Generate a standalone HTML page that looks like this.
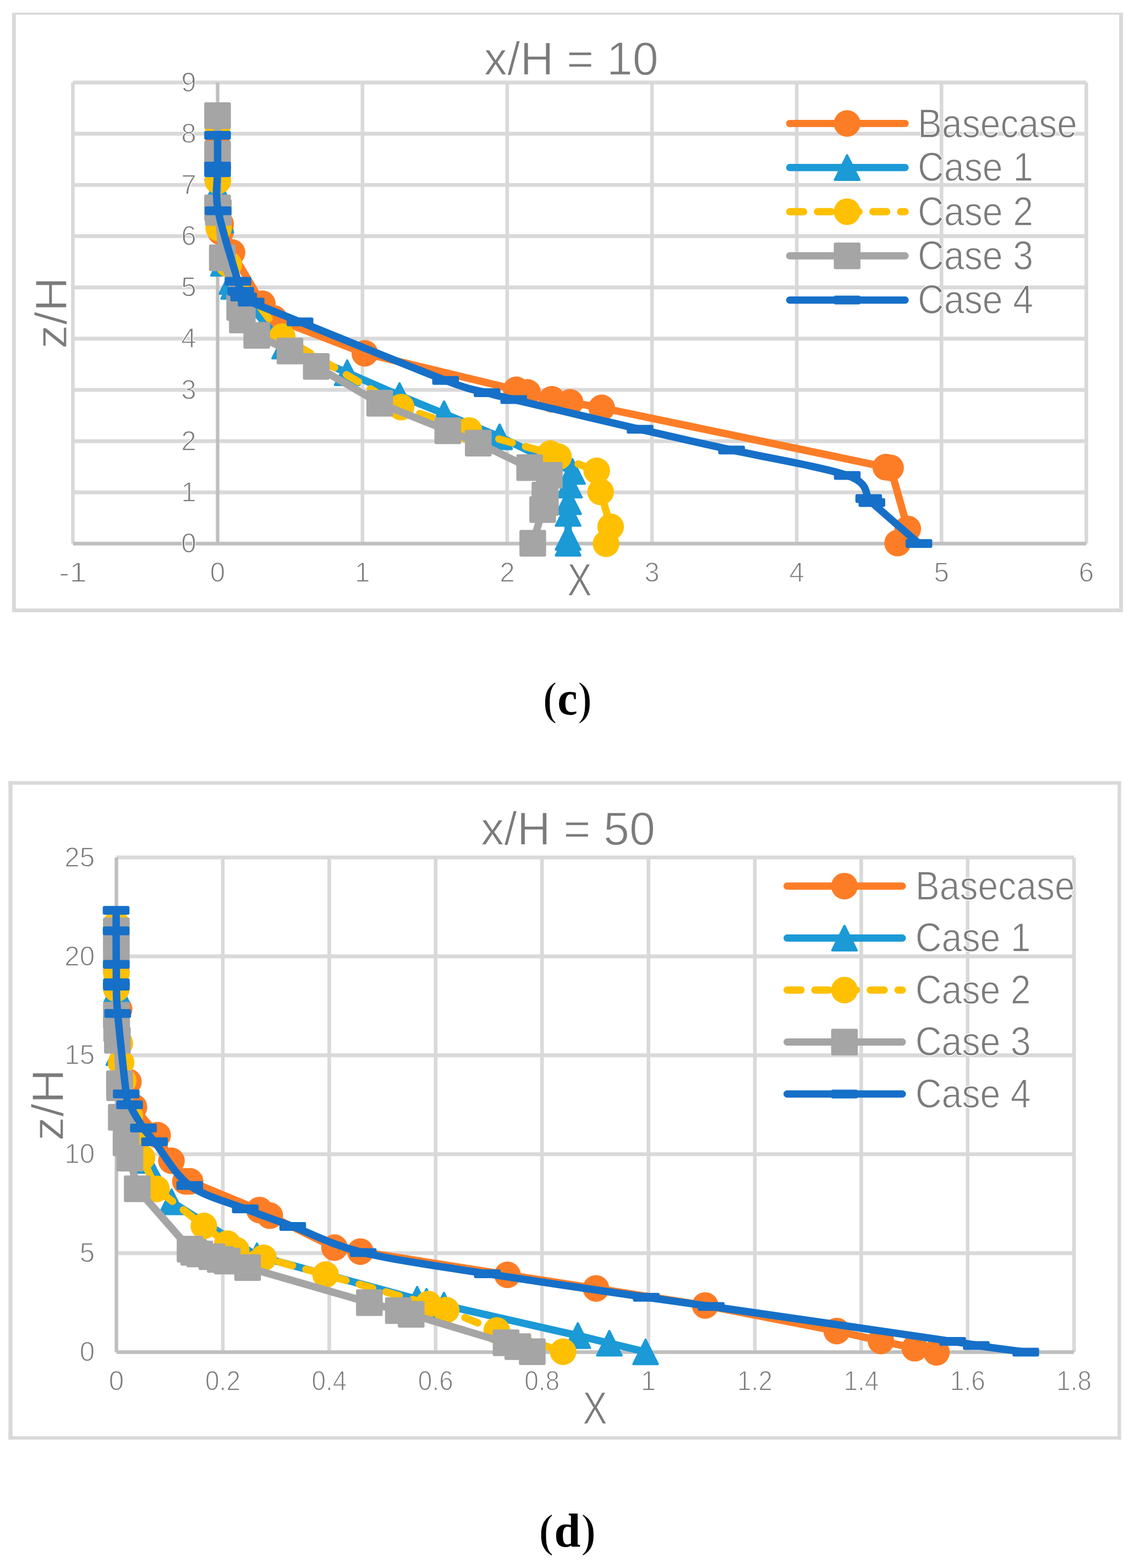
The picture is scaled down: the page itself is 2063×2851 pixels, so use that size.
<!DOCTYPE html>
<html><head><meta charset="utf-8"><title>Velocity profiles</title>
<style>html,body{margin:0;padding:0;background:#fff;}svg{display:block;}text.s{stroke:#fff;stroke-width:1.3px;}tspan.p{stroke:#fff;stroke-width:2.6px;}</style>
</head><body>
<svg width="2063" height="2851" viewBox="0 0 2063 2851">
<rect width="2063" height="2851" fill="#fff"/>
<rect x="22.0" y="23.0" width="2018.9" height="3.8" fill="#d9d9d9"/>
<rect x="22.0" y="1106.3" width="2018.9" height="6.8" fill="#d9d9d9"/>
<rect x="22.0" y="23.0" width="6.8" height="1090.1" fill="#d9d9d9"/>
<rect x="2034.2" y="23.0" width="6.7" height="1090.1" fill="#d9d9d9"/>
<rect x="15.3" y="1420.3" width="2022.4" height="6.5" fill="#d9d9d9"/>
<rect x="15.3" y="2611.4" width="2022.4" height="6.1" fill="#d9d9d9"/>
<rect x="15.3" y="1420.3" width="7.5" height="1197.2" fill="#d9d9d9"/>
<rect x="2031.3" y="1420.3" width="6.4" height="1197.2" fill="#d9d9d9"/>
<rect x="132.5" y="891.7" width="1842.0" height="7.0" fill="#d9d9d9"/>
<rect x="132.5" y="798.6" width="1842.0" height="7.0" fill="#d9d9d9"/>
<rect x="132.5" y="705.4" width="1842.0" height="7.0" fill="#d9d9d9"/>
<rect x="132.5" y="612.3" width="1842.0" height="7.0" fill="#d9d9d9"/>
<rect x="132.5" y="519.1" width="1842.0" height="7.0" fill="#d9d9d9"/>
<rect x="132.5" y="425.9" width="1842.0" height="7.0" fill="#d9d9d9"/>
<rect x="132.5" y="332.8" width="1842.0" height="7.0" fill="#d9d9d9"/>
<rect x="132.5" y="239.6" width="1842.0" height="7.0" fill="#d9d9d9"/>
<rect x="132.5" y="146.5" width="1842.0" height="7.0" fill="#d9d9d9"/>
<rect x="129.2" y="150.0" width="6.6" height="838.4" fill="#d9d9d9"/>
<rect x="655.5" y="150.0" width="6.6" height="838.4" fill="#d9d9d9"/>
<rect x="918.6" y="150.0" width="6.6" height="838.4" fill="#d9d9d9"/>
<rect x="1181.8" y="150.0" width="6.6" height="838.4" fill="#d9d9d9"/>
<rect x="1444.9" y="150.0" width="6.6" height="838.4" fill="#d9d9d9"/>
<rect x="1708.0" y="150.0" width="6.6" height="838.4" fill="#d9d9d9"/>
<rect x="1971.2" y="150.0" width="6.6" height="838.4" fill="#d9d9d9"/>
<rect x="132.5" y="985.1" width="1842.0" height="6.6" fill="#bfbfbf"/>
<rect x="392.4" y="150.0" width="6.4" height="838.4" fill="#bfbfbf"/>
<rect x="211.6" y="2275.1" width="1740.6" height="7.0" fill="#d9d9d9"/>
<rect x="211.6" y="2095.2" width="1740.6" height="7.0" fill="#d9d9d9"/>
<rect x="211.6" y="1915.3" width="1740.6" height="7.0" fill="#d9d9d9"/>
<rect x="211.6" y="1735.4" width="1740.6" height="7.0" fill="#d9d9d9"/>
<rect x="211.6" y="1555.5" width="1740.6" height="7.0" fill="#d9d9d9"/>
<rect x="401.7" y="1559.0" width="6.6" height="899.5" fill="#d9d9d9"/>
<rect x="595.1" y="1559.0" width="6.6" height="899.5" fill="#d9d9d9"/>
<rect x="788.5" y="1559.0" width="6.6" height="899.5" fill="#d9d9d9"/>
<rect x="981.9" y="1559.0" width="6.6" height="899.5" fill="#d9d9d9"/>
<rect x="1175.3" y="1559.0" width="6.6" height="899.5" fill="#d9d9d9"/>
<rect x="1368.7" y="1559.0" width="6.6" height="899.5" fill="#d9d9d9"/>
<rect x="1562.1" y="1559.0" width="6.6" height="899.5" fill="#d9d9d9"/>
<rect x="1755.5" y="1559.0" width="6.6" height="899.5" fill="#d9d9d9"/>
<rect x="1948.9" y="1559.0" width="6.6" height="899.5" fill="#d9d9d9"/>
<rect x="211.6" y="2455.2" width="1740.6" height="6.6" fill="#bfbfbf"/>
<rect x="208.4" y="1559.0" width="6.4" height="899.5" fill="#bfbfbf"/>
<text x="356.8" y="1005.0" font-size="49.5" text-anchor="end" fill="#7b7b7b" font-family="'Liberation Sans', 'DejaVu Sans', sans-serif" font-weight="normal" class="s">0</text>
<text x="356.8" y="911.8" font-size="49.5" text-anchor="end" fill="#7b7b7b" font-family="'Liberation Sans', 'DejaVu Sans', sans-serif" font-weight="normal" class="s">1</text>
<text x="356.8" y="818.7" font-size="49.5" text-anchor="end" fill="#7b7b7b" font-family="'Liberation Sans', 'DejaVu Sans', sans-serif" font-weight="normal" class="s">2</text>
<text x="356.8" y="725.5" font-size="49.5" text-anchor="end" fill="#7b7b7b" font-family="'Liberation Sans', 'DejaVu Sans', sans-serif" font-weight="normal" class="s">3</text>
<text x="356.8" y="632.4" font-size="49.5" text-anchor="end" fill="#7b7b7b" font-family="'Liberation Sans', 'DejaVu Sans', sans-serif" font-weight="normal" class="s">4</text>
<text x="356.8" y="539.2" font-size="49.5" text-anchor="end" fill="#7b7b7b" font-family="'Liberation Sans', 'DejaVu Sans', sans-serif" font-weight="normal" class="s">5</text>
<text x="356.8" y="446.0" font-size="49.5" text-anchor="end" fill="#7b7b7b" font-family="'Liberation Sans', 'DejaVu Sans', sans-serif" font-weight="normal" class="s">6</text>
<text x="356.8" y="352.9" font-size="49.5" text-anchor="end" fill="#7b7b7b" font-family="'Liberation Sans', 'DejaVu Sans', sans-serif" font-weight="normal" class="s">7</text>
<text x="356.8" y="259.7" font-size="49.5" text-anchor="end" fill="#7b7b7b" font-family="'Liberation Sans', 'DejaVu Sans', sans-serif" font-weight="normal" class="s">8</text>
<text x="356.8" y="166.6" font-size="49.5" text-anchor="end" fill="#7b7b7b" font-family="'Liberation Sans', 'DejaVu Sans', sans-serif" font-weight="normal" class="s">9</text>
<text x="132.5" y="1058.2" font-size="49.5" text-anchor="middle" fill="#7b7b7b" font-family="'Liberation Sans', 'DejaVu Sans', sans-serif" font-weight="normal" textLength="50.5" lengthAdjust="spacingAndGlyphs" class="s">-1</text>
<text x="395.6" y="1058.2" font-size="49.5" text-anchor="middle" fill="#7b7b7b" font-family="'Liberation Sans', 'DejaVu Sans', sans-serif" font-weight="normal" class="s">0</text>
<text x="658.8" y="1058.2" font-size="49.5" text-anchor="middle" fill="#7b7b7b" font-family="'Liberation Sans', 'DejaVu Sans', sans-serif" font-weight="normal" class="s">1</text>
<text x="921.9" y="1058.2" font-size="49.5" text-anchor="middle" fill="#7b7b7b" font-family="'Liberation Sans', 'DejaVu Sans', sans-serif" font-weight="normal" class="s">2</text>
<text x="1185.0" y="1058.2" font-size="49.5" text-anchor="middle" fill="#7b7b7b" font-family="'Liberation Sans', 'DejaVu Sans', sans-serif" font-weight="normal" class="s">3</text>
<text x="1448.2" y="1058.2" font-size="49.5" text-anchor="middle" fill="#7b7b7b" font-family="'Liberation Sans', 'DejaVu Sans', sans-serif" font-weight="normal" class="s">4</text>
<text x="1711.3" y="1058.2" font-size="49.5" text-anchor="middle" fill="#7b7b7b" font-family="'Liberation Sans', 'DejaVu Sans', sans-serif" font-weight="normal" class="s">5</text>
<text x="1974.5" y="1058.2" font-size="49.5" text-anchor="middle" fill="#7b7b7b" font-family="'Liberation Sans', 'DejaVu Sans', sans-serif" font-weight="normal" class="s">6</text>
<text x="172.2" y="2475.1" font-size="49.5" text-anchor="end" fill="#7b7b7b" font-family="'Liberation Sans', 'DejaVu Sans', sans-serif" font-weight="normal" class="s">0</text>
<text x="172.2" y="2295.2" font-size="49.5" text-anchor="end" fill="#7b7b7b" font-family="'Liberation Sans', 'DejaVu Sans', sans-serif" font-weight="normal" class="s">5</text>
<text x="172.2" y="2115.3" font-size="49.5" text-anchor="end" fill="#7b7b7b" font-family="'Liberation Sans', 'DejaVu Sans', sans-serif" font-weight="normal" class="s">10</text>
<text x="172.2" y="1935.4" font-size="49.5" text-anchor="end" fill="#7b7b7b" font-family="'Liberation Sans', 'DejaVu Sans', sans-serif" font-weight="normal" class="s">15</text>
<text x="172.2" y="1755.5" font-size="49.5" text-anchor="end" fill="#7b7b7b" font-family="'Liberation Sans', 'DejaVu Sans', sans-serif" font-weight="normal" class="s">20</text>
<text x="172.2" y="1575.6" font-size="49.5" text-anchor="end" fill="#7b7b7b" font-family="'Liberation Sans', 'DejaVu Sans', sans-serif" font-weight="normal" class="s">25</text>
<text x="211.6" y="2528.2" font-size="49.5" text-anchor="middle" fill="#7b7b7b" font-family="'Liberation Sans', 'DejaVu Sans', sans-serif" font-weight="normal" class="s">0</text>
<text x="405.0" y="2528.2" font-size="49.5" text-anchor="middle" fill="#7b7b7b" font-family="'Liberation Sans', 'DejaVu Sans', sans-serif" font-weight="normal" textLength="64.0" lengthAdjust="spacingAndGlyphs" class="s">0.2</text>
<text x="598.4" y="2528.2" font-size="49.5" text-anchor="middle" fill="#7b7b7b" font-family="'Liberation Sans', 'DejaVu Sans', sans-serif" font-weight="normal" textLength="64.0" lengthAdjust="spacingAndGlyphs" class="s">0.4</text>
<text x="791.8" y="2528.2" font-size="49.5" text-anchor="middle" fill="#7b7b7b" font-family="'Liberation Sans', 'DejaVu Sans', sans-serif" font-weight="normal" textLength="64.0" lengthAdjust="spacingAndGlyphs" class="s">0.6</text>
<text x="985.2" y="2528.2" font-size="49.5" text-anchor="middle" fill="#7b7b7b" font-family="'Liberation Sans', 'DejaVu Sans', sans-serif" font-weight="normal" textLength="64.0" lengthAdjust="spacingAndGlyphs" class="s">0.8</text>
<text x="1178.6" y="2528.2" font-size="49.5" text-anchor="middle" fill="#7b7b7b" font-family="'Liberation Sans', 'DejaVu Sans', sans-serif" font-weight="normal" class="s">1</text>
<text x="1372.0" y="2528.2" font-size="49.5" text-anchor="middle" fill="#7b7b7b" font-family="'Liberation Sans', 'DejaVu Sans', sans-serif" font-weight="normal" textLength="64.0" lengthAdjust="spacingAndGlyphs" class="s">1.2</text>
<text x="1565.4" y="2528.2" font-size="49.5" text-anchor="middle" fill="#7b7b7b" font-family="'Liberation Sans', 'DejaVu Sans', sans-serif" font-weight="normal" textLength="64.0" lengthAdjust="spacingAndGlyphs" class="s">1.4</text>
<text x="1758.8" y="2528.2" font-size="49.5" text-anchor="middle" fill="#7b7b7b" font-family="'Liberation Sans', 'DejaVu Sans', sans-serif" font-weight="normal" textLength="64.0" lengthAdjust="spacingAndGlyphs" class="s">1.6</text>
<text x="1952.2" y="2528.2" font-size="49.5" text-anchor="middle" fill="#7b7b7b" font-family="'Liberation Sans', 'DejaVu Sans', sans-serif" font-weight="normal" textLength="64.0" lengthAdjust="spacingAndGlyphs" class="s">1.8</text>
<text x="1038.3" y="136.2" font-size="85.8" text-anchor="middle" fill="#7b7b7b" font-family="'Liberation Sans', 'DejaVu Sans', sans-serif" font-weight="normal" textLength="317.0" lengthAdjust="spacingAndGlyphs" class="s">x/H = 10</text>
<text x="1032.5" y="1536.0" font-size="85.8" text-anchor="middle" fill="#7b7b7b" font-family="'Liberation Sans', 'DejaVu Sans', sans-serif" font-weight="normal" textLength="317.0" lengthAdjust="spacingAndGlyphs" class="s">x/H = 50</text>
<text x="1053.5" y="1083.1" font-size="84" text-anchor="middle" fill="#7b7b7b" font-family="'Liberation Sans', 'DejaVu Sans', sans-serif" font-weight="normal" textLength="45.0" lengthAdjust="spacingAndGlyphs" class="s">X</text>
<text x="1081.4" y="2588.7" font-size="84" text-anchor="middle" fill="#7b7b7b" font-family="'Liberation Sans', 'DejaVu Sans', sans-serif" font-weight="normal" textLength="45.0" lengthAdjust="spacingAndGlyphs" class="s">X</text>
<text class="s" transform="translate(121,569) rotate(-90)" x="0" y="0" textLength="130.5" lengthAdjust="spacingAndGlyphs" font-size="82" text-anchor="middle" fill="#7b7b7b" font-family="'Liberation Sans', 'DejaVu Sans', sans-serif">z/H</text>
<text class="s" transform="translate(115.1,2009) rotate(-90)" x="0" y="0" textLength="130.5" lengthAdjust="spacingAndGlyphs" font-size="82" text-anchor="middle" fill="#7b7b7b" font-family="'Liberation Sans', 'DejaVu Sans', sans-serif">z/H</text>
<text x="1031.4" y="1298.6" font-size="86" text-anchor="middle" fill="#000" font-family="'Liberation Serif', serif" font-weight="bold" textLength="90.8" lengthAdjust="spacingAndGlyphs"><tspan class="p">(</tspan>c<tspan class="p">)</tspan></text>
<text x="1031.3" y="2811.8" font-size="86.3" text-anchor="middle" fill="#000" font-family="'Liberation Serif', serif" font-weight="bold"><tspan class="p">(</tspan>d<tspan class="p">)</tspan></text>
<line x1="1435.4" y1="224.5" x2="1645.1" y2="224.5" stroke="#fd7d27" stroke-width="13.2" stroke-linecap="round"/>
<circle cx="1539.7" cy="224.5" r="24.2" fill="#fd7d27"/>
<text x="1668.0" y="249.6" font-size="74.7" text-anchor="start" fill="#7b7b7b" font-family="'Liberation Sans', 'DejaVu Sans', sans-serif" font-weight="normal" textLength="290.0" lengthAdjust="spacingAndGlyphs" class="s">Basecase</text>
<line x1="1435.4" y1="304.7" x2="1645.1" y2="304.7" stroke="#1b9ad6" stroke-width="13.2" stroke-linecap="round"/>
<path d="M1539.7,282.4 L1562.0,326.9 L1517.5,326.9Z" fill="#1b9ad6" stroke="#1b9ad6" stroke-width="4" stroke-linejoin="round"/>
<text x="1668.0" y="329.4" font-size="74.7" text-anchor="start" fill="#7b7b7b" font-family="'Liberation Sans', 'DejaVu Sans', sans-serif" font-weight="normal" textLength="210.0" lengthAdjust="spacingAndGlyphs" class="s">Case 1</text>
<line x1="1435.4" y1="384.9" x2="1645.1" y2="384.9" stroke="#fec000" stroke-width="13.2" stroke-linecap="round" stroke-dasharray="25.2 25.2"/>
<circle cx="1539.7" cy="384.9" r="24.2" fill="#fec000"/>
<text x="1668.0" y="409.6" font-size="74.7" text-anchor="start" fill="#7b7b7b" font-family="'Liberation Sans', 'DejaVu Sans', sans-serif" font-weight="normal" textLength="210.0" lengthAdjust="spacingAndGlyphs" class="s">Case 2</text>
<line x1="1435.4" y1="465.1" x2="1645.1" y2="465.1" stroke="#a5a5a5" stroke-width="13.2" stroke-linecap="round"/>
<rect x="1515.5" y="440.9" width="48.5" height="48.5" rx="3" fill="#a5a5a5"/>
<text x="1668.0" y="489.8" font-size="74.7" text-anchor="start" fill="#7b7b7b" font-family="'Liberation Sans', 'DejaVu Sans', sans-serif" font-weight="normal" textLength="210.0" lengthAdjust="spacingAndGlyphs" class="s">Case 3</text>
<line x1="1435.4" y1="545.6" x2="1645.1" y2="545.6" stroke="#1670c8" stroke-width="13.2" stroke-linecap="round"/>
<rect x="1515.5" y="537.6" width="48.5" height="16" rx="3" fill="#1670c8"/>
<text x="1668.0" y="570.0" font-size="74.7" text-anchor="start" fill="#7b7b7b" font-family="'Liberation Sans', 'DejaVu Sans', sans-serif" font-weight="normal" textLength="210.0" lengthAdjust="spacingAndGlyphs" class="s">Case 4</text>
<line x1="1430.7" y1="1611.2" x2="1640.0" y2="1611.2" stroke="#fd7d27" stroke-width="13.2" stroke-linecap="round"/>
<circle cx="1534.9" cy="1611.2" r="24.2" fill="#fd7d27"/>
<text x="1663.7" y="1635.5" font-size="74.7" text-anchor="start" fill="#7b7b7b" font-family="'Liberation Sans', 'DejaVu Sans', sans-serif" font-weight="normal" textLength="290.0" lengthAdjust="spacingAndGlyphs" class="s">Basecase</text>
<line x1="1430.7" y1="1705.7" x2="1640.0" y2="1705.7" stroke="#1b9ad6" stroke-width="13.2" stroke-linecap="round"/>
<path d="M1534.9,1683.5 L1557.2,1728.0 L1512.7,1728.0Z" fill="#1b9ad6" stroke="#1b9ad6" stroke-width="4" stroke-linejoin="round"/>
<text x="1663.7" y="1730.0" font-size="74.7" text-anchor="start" fill="#7b7b7b" font-family="'Liberation Sans', 'DejaVu Sans', sans-serif" font-weight="normal" textLength="210.0" lengthAdjust="spacingAndGlyphs" class="s">Case 1</text>
<line x1="1430.7" y1="1800.2" x2="1640.0" y2="1800.2" stroke="#fec000" stroke-width="13.2" stroke-linecap="round" stroke-dasharray="25.2 25.2"/>
<circle cx="1534.9" cy="1800.2" r="24.2" fill="#fec000"/>
<text x="1663.7" y="1824.5" font-size="74.7" text-anchor="start" fill="#7b7b7b" font-family="'Liberation Sans', 'DejaVu Sans', sans-serif" font-weight="normal" textLength="210.0" lengthAdjust="spacingAndGlyphs" class="s">Case 2</text>
<line x1="1430.7" y1="1894.7" x2="1640.0" y2="1894.7" stroke="#a5a5a5" stroke-width="13.2" stroke-linecap="round"/>
<rect x="1510.7" y="1870.5" width="48.5" height="48.5" rx="3" fill="#a5a5a5"/>
<text x="1663.7" y="1919.0" font-size="74.7" text-anchor="start" fill="#7b7b7b" font-family="'Liberation Sans', 'DejaVu Sans', sans-serif" font-weight="normal" textLength="210.0" lengthAdjust="spacingAndGlyphs" class="s">Case 3</text>
<line x1="1430.7" y1="1989.2" x2="1640.0" y2="1989.2" stroke="#1670c8" stroke-width="13.2" stroke-linecap="round"/>
<rect x="1510.7" y="1981.2" width="48.5" height="16" rx="3" fill="#1670c8"/>
<text x="1663.7" y="2013.5" font-size="74.7" text-anchor="start" fill="#7b7b7b" font-family="'Liberation Sans', 'DejaVu Sans', sans-serif" font-weight="normal" textLength="210.0" lengthAdjust="spacingAndGlyphs" class="s">Case 4</text>
<defs><clipPath id="cp1"><rect x="0" y="0" width="2063" height="1100"/></clipPath><clipPath id="cp2"><rect x="0" y="1430" width="2063" height="1180"/></clipPath></defs>
<g clip-path="url(#cp1)">
<path d="M395.5,265.0 L396.0,305.0 L401.0,407.0 L401.0,421.6 L421.7,459.0 L476.8,552.2 L498.1,579.0 L663.1,642.4 L938.3,708.8 L959.0,713.5 L1003.0,726.0 L1036.3,731.5 L1093.6,741.5 L1610.0,849.3 L1618.7,850.6 L1650.0,961.6 L1631.5,987.4" fill="none" stroke="#fd7d27" stroke-width="13.5" stroke-linejoin="round" stroke-linecap="round"/>
<circle cx="395.5" cy="265.0" r="24.2" fill="#fd7d27"/>
<circle cx="396.0" cy="305.0" r="24.2" fill="#fd7d27"/>
<circle cx="401.0" cy="407.0" r="24.2" fill="#fd7d27"/>
<circle cx="401.0" cy="421.6" r="24.2" fill="#fd7d27"/>
<circle cx="421.7" cy="459.0" r="24.2" fill="#fd7d27"/>
<circle cx="476.8" cy="552.2" r="24.2" fill="#fd7d27"/>
<circle cx="498.1" cy="579.0" r="24.2" fill="#fd7d27"/>
<circle cx="663.1" cy="642.4" r="24.2" fill="#fd7d27"/>
<circle cx="938.3" cy="708.8" r="24.2" fill="#fd7d27"/>
<circle cx="959.0" cy="713.5" r="24.2" fill="#fd7d27"/>
<circle cx="1003.0" cy="726.0" r="24.2" fill="#fd7d27"/>
<circle cx="1036.3" cy="731.5" r="24.2" fill="#fd7d27"/>
<circle cx="1093.6" cy="741.5" r="24.2" fill="#fd7d27"/>
<circle cx="1610.0" cy="849.3" r="24.2" fill="#fd7d27"/>
<circle cx="1618.7" cy="850.6" r="24.2" fill="#fd7d27"/>
<circle cx="1650.0" cy="961.6" r="24.2" fill="#fd7d27"/>
<circle cx="1631.5" cy="987.4" r="24.2" fill="#fd7d27"/>
<path d="M395.5,305.0 L395.5,345.0 L401.6,400.4 L406.2,478.7 L421.4,511.9 L424.6,520.6 L517.4,629.4 L631.1,677.6 L726.2,719.2 L807.2,752.2 L908.1,794.2 L1040.5,857.4 L1035.0,882.0 L1033.4,912.1 L1032.6,933.5 L1032.6,977.3 L1032.6,987.8" fill="none" stroke="#1b9ad6" stroke-width="13.5" stroke-linejoin="round" stroke-linecap="round"/>
<path d="M395.5,282.8 L417.8,327.2 L373.2,327.2Z" fill="#1b9ad6" stroke="#1b9ad6" stroke-width="4" stroke-linejoin="round"/>
<path d="M395.5,322.8 L417.8,367.2 L373.2,367.2Z" fill="#1b9ad6" stroke="#1b9ad6" stroke-width="4" stroke-linejoin="round"/>
<path d="M401.6,378.1 L423.9,422.6 L379.4,422.6Z" fill="#1b9ad6" stroke="#1b9ad6" stroke-width="4" stroke-linejoin="round"/>
<path d="M406.2,456.4 L428.4,500.9 L383.9,500.9Z" fill="#1b9ad6" stroke="#1b9ad6" stroke-width="4" stroke-linejoin="round"/>
<path d="M421.4,489.6 L443.6,534.1 L399.1,534.1Z" fill="#1b9ad6" stroke="#1b9ad6" stroke-width="4" stroke-linejoin="round"/>
<path d="M424.6,498.4 L446.9,542.9 L402.4,542.9Z" fill="#1b9ad6" stroke="#1b9ad6" stroke-width="4" stroke-linejoin="round"/>
<path d="M517.4,607.1 L539.6,651.6 L495.1,651.6Z" fill="#1b9ad6" stroke="#1b9ad6" stroke-width="4" stroke-linejoin="round"/>
<path d="M631.1,655.4 L653.4,699.9 L608.9,699.9Z" fill="#1b9ad6" stroke="#1b9ad6" stroke-width="4" stroke-linejoin="round"/>
<path d="M726.2,697.0 L748.5,741.5 L704.0,741.5Z" fill="#1b9ad6" stroke="#1b9ad6" stroke-width="4" stroke-linejoin="round"/>
<path d="M807.2,730.0 L829.5,774.5 L785.0,774.5Z" fill="#1b9ad6" stroke="#1b9ad6" stroke-width="4" stroke-linejoin="round"/>
<path d="M908.1,772.0 L930.4,816.5 L885.9,816.5Z" fill="#1b9ad6" stroke="#1b9ad6" stroke-width="4" stroke-linejoin="round"/>
<path d="M1040.5,835.1 L1062.8,879.6 L1018.2,879.6Z" fill="#1b9ad6" stroke="#1b9ad6" stroke-width="4" stroke-linejoin="round"/>
<path d="M1035.0,859.8 L1057.2,904.2 L1012.8,904.2Z" fill="#1b9ad6" stroke="#1b9ad6" stroke-width="4" stroke-linejoin="round"/>
<path d="M1033.4,889.9 L1055.7,934.4 L1011.2,934.4Z" fill="#1b9ad6" stroke="#1b9ad6" stroke-width="4" stroke-linejoin="round"/>
<path d="M1032.6,911.2 L1054.8,955.8 L1010.3,955.8Z" fill="#1b9ad6" stroke="#1b9ad6" stroke-width="4" stroke-linejoin="round"/>
<path d="M1032.6,955.0 L1054.8,999.5 L1010.3,999.5Z" fill="#1b9ad6" stroke="#1b9ad6" stroke-width="4" stroke-linejoin="round"/>
<path d="M1032.6,965.5 L1054.8,1010.0 L1010.3,1010.0Z" fill="#1b9ad6" stroke="#1b9ad6" stroke-width="4" stroke-linejoin="round"/>
<path d="M395.5,228.0 L396.0,329.0 L397.4,414.3 L415.8,481.0 L513.0,612.0 L729.1,740.1 L852.5,782.7 L1000.3,824.8 L1015.2,830.5 L1084.6,856.0 L1091.7,894.4 L1109.9,957.8 L1101.5,988.7" fill="none" stroke="#fec000" stroke-width="13.5" stroke-linejoin="round" stroke-linecap="round" stroke-dasharray="25.2 25.2"/>
<circle cx="395.5" cy="228.0" r="24.2" fill="#fec000"/>
<circle cx="396.0" cy="329.0" r="24.2" fill="#fec000"/>
<circle cx="397.4" cy="414.3" r="24.2" fill="#fec000"/>
<circle cx="415.8" cy="481.0" r="24.2" fill="#fec000"/>
<circle cx="513.0" cy="612.0" r="24.2" fill="#fec000"/>
<circle cx="729.1" cy="740.1" r="24.2" fill="#fec000"/>
<circle cx="852.5" cy="782.7" r="24.2" fill="#fec000"/>
<circle cx="1000.3" cy="824.8" r="24.2" fill="#fec000"/>
<circle cx="1015.2" cy="830.5" r="24.2" fill="#fec000"/>
<circle cx="1084.6" cy="856.0" r="24.2" fill="#fec000"/>
<circle cx="1091.7" cy="894.4" r="24.2" fill="#fec000"/>
<circle cx="1109.9" cy="957.8" r="24.2" fill="#fec000"/>
<circle cx="1101.5" cy="988.7" r="24.2" fill="#fec000"/>
<path d="M395.5,210.3 L395.5,280.0 L395.5,378.0 L396.9,386.4 L404.0,468.8 L435.6,559.0 L440.5,581.6 L466.7,609.6 L527.0,638.3 L574.9,666.4 L690.3,733.4 L813.9,783.1 L869.3,805.6 L962.6,850.3 L998.5,864.4 L990.5,900.4 L991.4,913.8 L986.4,926.5 L968.4,987.9" fill="none" stroke="#a5a5a5" stroke-width="13.5" stroke-linejoin="round" stroke-linecap="round"/>
<rect x="371.2" y="186.1" width="48.5" height="48.5" rx="3" fill="#a5a5a5"/>
<rect x="371.2" y="255.8" width="48.5" height="48.5" rx="3" fill="#a5a5a5"/>
<rect x="371.2" y="353.8" width="48.5" height="48.5" rx="3" fill="#a5a5a5"/>
<rect x="372.6" y="362.1" width="48.5" height="48.5" rx="3" fill="#a5a5a5"/>
<rect x="379.8" y="444.6" width="48.5" height="48.5" rx="3" fill="#a5a5a5"/>
<rect x="411.4" y="534.8" width="48.5" height="48.5" rx="3" fill="#a5a5a5"/>
<rect x="416.2" y="557.4" width="48.5" height="48.5" rx="3" fill="#a5a5a5"/>
<rect x="442.4" y="585.4" width="48.5" height="48.5" rx="3" fill="#a5a5a5"/>
<rect x="502.8" y="614.0" width="48.5" height="48.5" rx="3" fill="#a5a5a5"/>
<rect x="550.6" y="642.1" width="48.5" height="48.5" rx="3" fill="#a5a5a5"/>
<rect x="666.0" y="709.1" width="48.5" height="48.5" rx="3" fill="#a5a5a5"/>
<rect x="789.6" y="758.9" width="48.5" height="48.5" rx="3" fill="#a5a5a5"/>
<rect x="845.0" y="781.4" width="48.5" height="48.5" rx="3" fill="#a5a5a5"/>
<rect x="938.4" y="826.0" width="48.5" height="48.5" rx="3" fill="#a5a5a5"/>
<rect x="974.2" y="840.1" width="48.5" height="48.5" rx="3" fill="#a5a5a5"/>
<rect x="966.2" y="876.1" width="48.5" height="48.5" rx="3" fill="#a5a5a5"/>
<rect x="967.1" y="889.5" width="48.5" height="48.5" rx="3" fill="#a5a5a5"/>
<rect x="962.1" y="902.2" width="48.5" height="48.5" rx="3" fill="#a5a5a5"/>
<rect x="944.1" y="963.6" width="48.5" height="48.5" rx="3" fill="#a5a5a5"/>
<path d="M395.5,245.9 C395.5,255.2 395.5,290.6 395.5,302.0 C395.5,313.4 395.3,300.5 395.5,314.0 C395.7,327.5 390.3,350.3 396.5,383.2 C402.7,416.1 425.6,487.1 432.5,511.5 C439.4,535.9 435.9,525.0 437.6,529.8 C439.3,534.5 439.7,536.8 442.8,540.0 C445.9,543.2 439.4,541.8 456.5,549.3 C473.6,556.8 486.5,561.5 545.4,585.2 C604.3,608.9 753.3,670.2 809.9,691.7 C866.5,713.2 864.6,708.3 885.2,714.1 C905.8,719.9 887.3,715.3 933.7,726.4 C980.1,737.5 1097.4,765.3 1163.4,780.6 C1229.4,795.9 1267.0,804.2 1329.7,818.2 C1392.5,832.2 1498.4,849.7 1539.9,864.4 C1581.5,879.1 1571.5,898.2 1579.0,906.4 C1586.5,914.6 1569.6,900.1 1584.8,913.7 C1600.0,927.4 1656.0,975.9 1670.3,988.3" fill="none" stroke="#1670c8" stroke-width="13.5" stroke-linejoin="round" stroke-linecap="round"/>
<rect x="371.2" y="237.9" width="48.5" height="16" rx="3" fill="#1670c8"/>
<rect x="371.2" y="294.0" width="48.5" height="16" rx="3" fill="#1670c8"/>
<rect x="371.2" y="306.0" width="48.5" height="16" rx="3" fill="#1670c8"/>
<rect x="372.2" y="375.2" width="48.5" height="16" rx="3" fill="#1670c8"/>
<rect x="408.2" y="503.5" width="48.5" height="16" rx="3" fill="#1670c8"/>
<rect x="413.4" y="521.8" width="48.5" height="16" rx="3" fill="#1670c8"/>
<rect x="418.6" y="532.0" width="48.5" height="16" rx="3" fill="#1670c8"/>
<rect x="432.2" y="541.3" width="48.5" height="16" rx="3" fill="#1670c8"/>
<rect x="521.1" y="577.2" width="48.5" height="16" rx="3" fill="#1670c8"/>
<rect x="785.6" y="683.7" width="48.5" height="16" rx="3" fill="#1670c8"/>
<rect x="861.0" y="706.1" width="48.5" height="16" rx="3" fill="#1670c8"/>
<rect x="909.5" y="718.4" width="48.5" height="16" rx="3" fill="#1670c8"/>
<rect x="1139.2" y="772.6" width="48.5" height="16" rx="3" fill="#1670c8"/>
<rect x="1305.5" y="810.2" width="48.5" height="16" rx="3" fill="#1670c8"/>
<rect x="1515.7" y="856.4" width="48.5" height="16" rx="3" fill="#1670c8"/>
<rect x="1554.8" y="898.4" width="48.5" height="16" rx="3" fill="#1670c8"/>
<rect x="1560.5" y="905.7" width="48.5" height="16" rx="3" fill="#1670c8"/>
<rect x="1646.0" y="980.3" width="48.5" height="16" rx="3" fill="#1670c8"/>
</g>
<g clip-path="url(#cp2)">
<path d="M211.5,1700.0 L211.5,1765.0 L216.5,1835.0 L233.4,1967.0 L243.5,2013.0 L286.5,2064.0 L311.6,2110.5 L337.0,2148.0 L345.5,2148.0 L471.6,2200.2 L490.4,2210.3 L608.0,2268.5 L655.0,2275.7 L922.4,2318.0 L1083.3,2342.7 L1281.8,2373.7 L1520.9,2420.2 L1601.2,2438.2 L1662.7,2451.4 L1702.2,2458.8" fill="none" stroke="#fd7d27" stroke-width="13.5" stroke-linejoin="round" stroke-linecap="round"/>
<circle cx="211.5" cy="1700.0" r="24.2" fill="#fd7d27"/>
<circle cx="211.5" cy="1765.0" r="24.2" fill="#fd7d27"/>
<circle cx="216.5" cy="1835.0" r="24.2" fill="#fd7d27"/>
<circle cx="233.4" cy="1967.0" r="24.2" fill="#fd7d27"/>
<circle cx="243.5" cy="2013.0" r="24.2" fill="#fd7d27"/>
<circle cx="286.5" cy="2064.0" r="24.2" fill="#fd7d27"/>
<circle cx="311.6" cy="2110.5" r="24.2" fill="#fd7d27"/>
<circle cx="337.0" cy="2148.0" r="24.2" fill="#fd7d27"/>
<circle cx="345.5" cy="2148.0" r="24.2" fill="#fd7d27"/>
<circle cx="471.6" cy="2200.2" r="24.2" fill="#fd7d27"/>
<circle cx="490.4" cy="2210.3" r="24.2" fill="#fd7d27"/>
<circle cx="608.0" cy="2268.5" r="24.2" fill="#fd7d27"/>
<circle cx="655.0" cy="2275.7" r="24.2" fill="#fd7d27"/>
<circle cx="922.4" cy="2318.0" r="24.2" fill="#fd7d27"/>
<circle cx="1083.3" cy="2342.7" r="24.2" fill="#fd7d27"/>
<circle cx="1281.8" cy="2373.7" r="24.2" fill="#fd7d27"/>
<circle cx="1520.9" cy="2420.2" r="24.2" fill="#fd7d27"/>
<circle cx="1601.2" cy="2438.2" r="24.2" fill="#fd7d27"/>
<circle cx="1662.7" cy="2451.4" r="24.2" fill="#fd7d27"/>
<circle cx="1702.2" cy="2458.8" r="24.2" fill="#fd7d27"/>
<path d="M211.5,1705.0 L212.0,1800.0 L216.0,1914.0 L222.0,1965.0 L240.0,2040.0 L265.0,2110.0 L287.5,2154.4 L311.9,2185.2 L467.1,2283.4 L758.2,2362.3 L775.3,2366.2 L806.9,2373.0 L1050.3,2428.4 L1107.6,2442.3 L1173.4,2458.0" fill="none" stroke="#1b9ad6" stroke-width="13.5" stroke-linejoin="round" stroke-linecap="round"/>
<path d="M211.5,1682.8 L233.8,1727.2 L189.2,1727.2Z" fill="#1b9ad6" stroke="#1b9ad6" stroke-width="4" stroke-linejoin="round"/>
<path d="M212.0,1777.8 L234.2,1822.2 L189.8,1822.2Z" fill="#1b9ad6" stroke="#1b9ad6" stroke-width="4" stroke-linejoin="round"/>
<path d="M216.0,1891.8 L238.2,1936.2 L193.8,1936.2Z" fill="#1b9ad6" stroke="#1b9ad6" stroke-width="4" stroke-linejoin="round"/>
<path d="M222.0,1942.8 L244.2,1987.2 L199.8,1987.2Z" fill="#1b9ad6" stroke="#1b9ad6" stroke-width="4" stroke-linejoin="round"/>
<path d="M240.0,2017.8 L262.2,2062.2 L217.8,2062.2Z" fill="#1b9ad6" stroke="#1b9ad6" stroke-width="4" stroke-linejoin="round"/>
<path d="M265.0,2087.8 L287.2,2132.2 L242.8,2132.2Z" fill="#1b9ad6" stroke="#1b9ad6" stroke-width="4" stroke-linejoin="round"/>
<path d="M287.5,2132.2 L309.8,2176.7 L265.2,2176.7Z" fill="#1b9ad6" stroke="#1b9ad6" stroke-width="4" stroke-linejoin="round"/>
<path d="M311.9,2162.9 L334.1,2207.4 L289.6,2207.4Z" fill="#1b9ad6" stroke="#1b9ad6" stroke-width="4" stroke-linejoin="round"/>
<path d="M467.1,2261.2 L489.4,2305.7 L444.9,2305.7Z" fill="#1b9ad6" stroke="#1b9ad6" stroke-width="4" stroke-linejoin="round"/>
<path d="M758.2,2340.1 L780.5,2384.6 L736.0,2384.6Z" fill="#1b9ad6" stroke="#1b9ad6" stroke-width="4" stroke-linejoin="round"/>
<path d="M775.3,2343.9 L797.5,2388.4 L753.0,2388.4Z" fill="#1b9ad6" stroke="#1b9ad6" stroke-width="4" stroke-linejoin="round"/>
<path d="M806.9,2350.8 L829.1,2395.2 L784.6,2395.2Z" fill="#1b9ad6" stroke="#1b9ad6" stroke-width="4" stroke-linejoin="round"/>
<path d="M1050.3,2406.2 L1072.5,2450.7 L1028.0,2450.7Z" fill="#1b9ad6" stroke="#1b9ad6" stroke-width="4" stroke-linejoin="round"/>
<path d="M1107.6,2420.1 L1129.8,2464.6 L1085.3,2464.6Z" fill="#1b9ad6" stroke="#1b9ad6" stroke-width="4" stroke-linejoin="round"/>
<path d="M1173.4,2435.8 L1195.7,2480.2 L1151.2,2480.2Z" fill="#1b9ad6" stroke="#1b9ad6" stroke-width="4" stroke-linejoin="round"/>
<path d="M211.5,1680.0 L211.5,1770.0 L211.5,1798.0 L217.7,1897.0 L220.0,1932.0 L224.0,1965.0 L236.0,2030.0 L248.0,2066.0 L258.1,2105.0 L284.4,2161.7 L370.5,2229.0 L413.3,2261.2 L429.4,2273.0 L479.0,2286.9 L591.8,2317.5 L778.6,2371.1 L811.0,2382.0 L902.9,2419.2 L1023.5,2457.7" fill="none" stroke="#fec000" stroke-width="13.5" stroke-linejoin="round" stroke-linecap="round" stroke-dasharray="25.2 25.2"/>
<circle cx="211.5" cy="1680.0" r="24.2" fill="#fec000"/>
<circle cx="211.5" cy="1770.0" r="24.2" fill="#fec000"/>
<circle cx="211.5" cy="1798.0" r="24.2" fill="#fec000"/>
<circle cx="217.7" cy="1897.0" r="24.2" fill="#fec000"/>
<circle cx="220.0" cy="1932.0" r="24.2" fill="#fec000"/>
<circle cx="224.0" cy="1965.0" r="24.2" fill="#fec000"/>
<circle cx="236.0" cy="2030.0" r="24.2" fill="#fec000"/>
<circle cx="248.0" cy="2066.0" r="24.2" fill="#fec000"/>
<circle cx="258.1" cy="2105.0" r="24.2" fill="#fec000"/>
<circle cx="284.4" cy="2161.7" r="24.2" fill="#fec000"/>
<circle cx="370.5" cy="2229.0" r="24.2" fill="#fec000"/>
<circle cx="413.3" cy="2261.2" r="24.2" fill="#fec000"/>
<circle cx="429.4" cy="2273.0" r="24.2" fill="#fec000"/>
<circle cx="479.0" cy="2286.9" r="24.2" fill="#fec000"/>
<circle cx="591.8" cy="2317.5" r="24.2" fill="#fec000"/>
<circle cx="778.6" cy="2371.1" r="24.2" fill="#fec000"/>
<circle cx="811.0" cy="2382.0" r="24.2" fill="#fec000"/>
<circle cx="902.9" cy="2419.2" r="24.2" fill="#fec000"/>
<circle cx="1023.5" cy="2457.7" r="24.2" fill="#fec000"/>
<path d="M211.5,1692.4 L211.5,1736.0 L211.5,1846.0 L212.0,1870.4 L213.3,1891.4 L217.0,1970.6 L217.4,1977.8 L220.4,2031.5 L229.1,2078.0 L236.2,2105.8 L249.5,2161.5 L345.5,2271.3 L352.0,2277.0 L363.0,2280.0 L385.0,2285.0 L400.3,2290.0 L413.0,2293.0 L450.0,2304.8 L671.4,2368.4 L724.0,2383.0 L747.4,2389.8 L919.9,2441.6 L941.1,2448.4 L967.5,2457.7" fill="none" stroke="#a5a5a5" stroke-width="13.5" stroke-linejoin="round" stroke-linecap="round"/>
<rect x="187.2" y="1668.2" width="48.5" height="48.5" rx="3" fill="#a5a5a5"/>
<rect x="187.2" y="1711.8" width="48.5" height="48.5" rx="3" fill="#a5a5a5"/>
<rect x="187.2" y="1821.8" width="48.5" height="48.5" rx="3" fill="#a5a5a5"/>
<rect x="187.8" y="1846.2" width="48.5" height="48.5" rx="3" fill="#a5a5a5"/>
<rect x="189.1" y="1867.2" width="48.5" height="48.5" rx="3" fill="#a5a5a5"/>
<rect x="192.8" y="1946.3" width="48.5" height="48.5" rx="3" fill="#a5a5a5"/>
<rect x="193.2" y="1953.5" width="48.5" height="48.5" rx="3" fill="#a5a5a5"/>
<rect x="196.2" y="2007.2" width="48.5" height="48.5" rx="3" fill="#a5a5a5"/>
<rect x="204.8" y="2053.8" width="48.5" height="48.5" rx="3" fill="#a5a5a5"/>
<rect x="211.9" y="2081.6" width="48.5" height="48.5" rx="3" fill="#a5a5a5"/>
<rect x="225.2" y="2137.2" width="48.5" height="48.5" rx="3" fill="#a5a5a5"/>
<rect x="321.2" y="2247.1" width="48.5" height="48.5" rx="3" fill="#a5a5a5"/>
<rect x="327.8" y="2252.8" width="48.5" height="48.5" rx="3" fill="#a5a5a5"/>
<rect x="338.8" y="2255.8" width="48.5" height="48.5" rx="3" fill="#a5a5a5"/>
<rect x="360.8" y="2260.8" width="48.5" height="48.5" rx="3" fill="#a5a5a5"/>
<rect x="376.1" y="2265.8" width="48.5" height="48.5" rx="3" fill="#a5a5a5"/>
<rect x="388.8" y="2268.8" width="48.5" height="48.5" rx="3" fill="#a5a5a5"/>
<rect x="425.8" y="2280.6" width="48.5" height="48.5" rx="3" fill="#a5a5a5"/>
<rect x="647.1" y="2344.2" width="48.5" height="48.5" rx="3" fill="#a5a5a5"/>
<rect x="699.8" y="2358.8" width="48.5" height="48.5" rx="3" fill="#a5a5a5"/>
<rect x="723.1" y="2365.6" width="48.5" height="48.5" rx="3" fill="#a5a5a5"/>
<rect x="895.6" y="2417.3" width="48.5" height="48.5" rx="3" fill="#a5a5a5"/>
<rect x="916.9" y="2424.2" width="48.5" height="48.5" rx="3" fill="#a5a5a5"/>
<rect x="943.2" y="2433.4" width="48.5" height="48.5" rx="3" fill="#a5a5a5"/>
<path d="M211.1,1655.3 C211.1,1661.5 211.1,1676.2 211.1,1692.6 C211.1,1709.0 211.2,1737.8 211.3,1753.5 C211.4,1769.2 211.5,1780.4 211.5,1787.0 C211.5,1793.6 211.1,1783.7 211.5,1793.0 C211.9,1802.3 210.9,1810.1 213.9,1842.8 C216.9,1875.5 225.9,1961.3 229.5,1989.0 C233.1,2016.7 230.4,1998.4 235.6,2008.7 C240.8,2019.0 253.1,2039.9 260.7,2051.1 C268.2,2062.3 266.9,2058.6 280.9,2076.0 C294.9,2093.4 317.3,2135.2 344.8,2155.5 C372.3,2175.8 414.6,2185.7 445.8,2198.1 C477.0,2210.5 496.3,2216.8 532.0,2230.0 C567.7,2243.2 601.1,2263.2 660.1,2277.5 C719.1,2291.8 800.0,2302.6 885.8,2316.1 C971.6,2329.6 1106.9,2348.8 1174.7,2358.7 C1242.5,2368.6 1200.0,2362.1 1292.8,2375.5 C1385.6,2388.9 1651.3,2427.2 1731.6,2439.1 C1811.9,2450.9 1752.4,2443.4 1774.6,2446.6 C1796.8,2449.8 1849.5,2456.4 1864.5,2458.4" fill="none" stroke="#1670c8" stroke-width="13.5" stroke-linejoin="round" stroke-linecap="round"/>
<rect x="186.8" y="1647.3" width="48.5" height="16" rx="3" fill="#1670c8"/>
<rect x="186.8" y="1684.6" width="48.5" height="16" rx="3" fill="#1670c8"/>
<rect x="187.1" y="1745.5" width="48.5" height="16" rx="3" fill="#1670c8"/>
<rect x="187.2" y="1779.0" width="48.5" height="16" rx="3" fill="#1670c8"/>
<rect x="187.2" y="1785.0" width="48.5" height="16" rx="3" fill="#1670c8"/>
<rect x="189.7" y="1834.8" width="48.5" height="16" rx="3" fill="#1670c8"/>
<rect x="205.2" y="1981.0" width="48.5" height="16" rx="3" fill="#1670c8"/>
<rect x="211.3" y="2000.7" width="48.5" height="16" rx="3" fill="#1670c8"/>
<rect x="236.4" y="2043.1" width="48.5" height="16" rx="3" fill="#1670c8"/>
<rect x="256.6" y="2068.0" width="48.5" height="16" rx="3" fill="#1670c8"/>
<rect x="320.6" y="2147.5" width="48.5" height="16" rx="3" fill="#1670c8"/>
<rect x="421.6" y="2190.1" width="48.5" height="16" rx="3" fill="#1670c8"/>
<rect x="507.8" y="2222.0" width="48.5" height="16" rx="3" fill="#1670c8"/>
<rect x="635.9" y="2269.5" width="48.5" height="16" rx="3" fill="#1670c8"/>
<rect x="861.5" y="2308.1" width="48.5" height="16" rx="3" fill="#1670c8"/>
<rect x="1150.5" y="2350.7" width="48.5" height="16" rx="3" fill="#1670c8"/>
<rect x="1268.5" y="2367.5" width="48.5" height="16" rx="3" fill="#1670c8"/>
<rect x="1707.3" y="2431.1" width="48.5" height="16" rx="3" fill="#1670c8"/>
<rect x="1750.3" y="2438.6" width="48.5" height="16" rx="3" fill="#1670c8"/>
<rect x="1840.2" y="2450.4" width="48.5" height="16" rx="3" fill="#1670c8"/>
</g>
</svg>
</body></html>
